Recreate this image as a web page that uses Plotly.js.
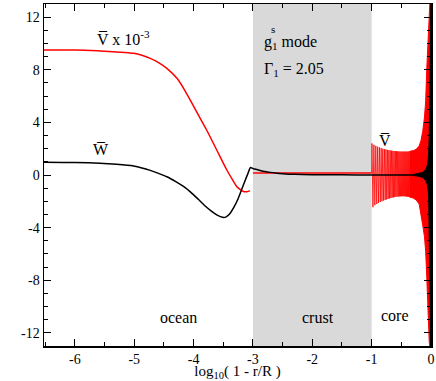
<!DOCTYPE html>
<html>
<head>
<meta charset="utf-8">
<script src="https://cdn.plot.ly/plotly-3.0.1.min.js"></script>
<style>
  html, body { margin: 0; padding: 0; background: #fff; }
  #myDiv { width: 436px; height: 381px; }
</style>
</head>
<body>
<div id="myDiv"></div>
<script>
// W-bar, ocean -> crust -> core (black)
var wX = [-6.52, -6.0, -5.58, -5.3, -5.01, -4.87, -4.73, -4.59, -4.45, -4.3, -4.17, -4.05, -3.92, -3.8, -3.7, -3.61,
          -3.51, -3.45, -3.39, -3.32, -3.25, -3.19, -3.13, -3.09, -3.04, -3.0, -2.95, -2.88, -2.8, -2.71,
          -2.6, -2.5, -2.3, -2.0, -1.5, -1.0, -0.5, -0.3];
var wY = [0.97, 0.95, 0.89, 0.81, 0.68, 0.54, 0.35, 0.12, -0.13, -0.5, -0.87, -1.3, -1.85, -2.38, -2.75, -3.03,
          -3.22, -3.18, -2.95, -2.45, -1.8, -1.1, -0.4, 0.05, 0.57, 0.5, 0.43, 0.35, 0.27, 0.2,
          0.14, 0.1, 0.05, 0.02, 0.01, 0.0, 0.0, 0.0];

// V-bar x 10^-3 in the ocean (red)
var vOceanX = [-6.52, -6.0, -5.58, -5.3, -5.01, -4.87, -4.73, -4.59, -4.45, -4.28, -4.12, -3.95, -3.78,
               -3.61, -3.44, -3.35, -3.27, -3.21, -3.16, -3.1, -3.05];
var vOceanY = [9.5, 9.5, 9.43, 9.36, 9.25, 9.1, 8.87, 8.55, 8.11, 7.35, 6.21, 4.81, 3.42,
               1.9, 0.38, -0.32, -0.89, -1.12, -1.25, -1.27, -1.19];

// V-bar in the crust (red)
var vCrustX = [-3.0, -2.0, -1.0];
var vCrustY = [0.16, 0.15, 0.15];

// resolved core oscillation of V-bar (red)
var vCoreX = [-1.0,
  -0.995, -0.978, -0.962, -0.946, -0.930, -0.914, -0.899, -0.884, -0.869, -0.855, -0.840, -0.826,
  -0.812, -0.798, -0.785, -0.772, -0.759, -0.746, -0.734, -0.722, -0.710, -0.698, -0.687, -0.676,
  -0.665, -0.654, -0.643, -0.632, -0.622, -0.611, -0.601, -0.591, -0.581, -0.571, -0.561, -0.551,
  -0.542, -0.532, -0.523, -0.514, -0.505, -0.496, -0.487, -0.478, -0.470, -0.461, -0.453, -0.444,
  -0.436, -0.428, -0.420, -0.412, -0.404, -0.396, -0.388, -0.380, -0.373, -0.365, -0.358];
var vCoreY = [0.15,
  2.4, -2.45, 2.3, -2.3, 2.22, -2.2, 2.15, -2.12, 2.1, -2.05, 2.05, -2.0,
  2.0, -1.95, 1.97, -1.9, 1.94, -1.86, 1.91, -1.82, 1.89, -1.78, 1.87, -1.75,
  1.85, -1.72, 1.84, -1.7, 1.83, -1.68, 1.82, -1.66, 1.81, -1.65, 1.8, -1.64,
  1.79, -1.63, 1.79, -1.62, 1.78, -1.62, 1.78, -1.62, 1.78, -1.62, 1.78, -1.62,
  1.78, -1.63, 1.78, -1.64, 1.78, -1.65, 1.78, -1.66, 1.79, -1.68, 1.8];

// dense part of the core oscillation: envelope (red)
var denseX   = [-0.36, -0.3, -0.25, -0.2, -0.17, -0.14, -0.11, -0.09, -0.07, -0.055, -0.04, -0.03, -0.02, -0.01, 0];
var denseTop = [1.8, 1.85, 1.95, 2.2, 2.6, 3.3, 4.4, 5.6, 8.2, 10, 11.2, 12.2, 13, 13, 13];
var denseBot = [-1.68, -1.75, -1.9, -2.2, -2.9, -3.8, -4.7, -5.8, -7.9, -9.5, -11, -12.7, -13, -13, -13];

// W-bar oscillation envelope near the centre (black)
var wDenseX   = [-0.3, -0.2, -0.15, -0.1, -0.07, -0.05, -0.04, -0.03, -0.02, -0.012, -0.006, 0];
var wDenseTop = [0.04, 0.1, 0.18, 0.35, 0.6, 1.0, 1.6, 3, 6, 10, 13, 13];
var wDenseBot = [-0.04, -0.1, -0.18, -0.35, -0.6, -1.0, -1.6, -3, -6, -10, -13, -13];

var xTicks = [-6, -5, -4, -3, -2, -1, 0];
var xTickText = ['-6', '-5', '-4', '-3', '-2', '-1', '0'];
var yTicks = [-12, -8, -4, 0, 4, 8, 12];
var yTickText = ['-12', '-8', '-4', '0', '4', '8', '12'];

var serif = 'Times New Roman';

var denseFill = {
  x: denseX.concat(denseX.slice().reverse()),
  y: denseTop.concat(denseBot.slice().reverse()),
  type: 'scatter', mode: 'lines', fill: 'toself',
  fillcolor: '#ff0000', line: {color: '#ff0000', width: 1}
};
var wDenseFill = {
  x: wDenseX.concat(wDenseX.slice().reverse()),
  y: wDenseTop.concat(wDenseBot.slice().reverse()),
  type: 'scatter', mode: 'lines', fill: 'toself',
  fillcolor: '#000000', line: {color: '#000000', width: 1}
};
var vOcean = {x: vOceanX, y: vOceanY, type: 'scatter', mode: 'lines',
              line: {color: '#ff0000', width: 1.5, shape: 'spline', smoothing: 1}};
var vCrust = {x: vCrustX, y: vCrustY, type: 'scatter', mode: 'lines', line: {color: '#ff0000', width: 1.5}};
var vCore = {x: vCoreX, y: vCoreY, type: 'scatter', mode: 'lines', line: {color: '#ff0000', width: 0.8}};
var wLine = {x: wX, y: wY, type: 'scatter', mode: 'lines',
             line: {color: '#000000', width: 1.5, shape: 'spline', smoothing: 0.7}};

var data = [vOcean, vCrust, vCore, denseFill, wLine, wDenseFill];

function label(txt, x, y, anchor, size) {
  return {text: txt, x: x, y: y, xref: 'x', yref: 'y', showarrow: false,
          xanchor: anchor || 'center', yanchor: 'middle',
          font: {family: serif, size: size || 15, color: '#000'}};
}

var layout = {
  width: 436, height: 381,
  margin: {l: 44, r: 5, t: 4, b: 35},
  paper_bgcolor: '#fff', plot_bgcolor: '#fff',
  showlegend: false,
  font: {family: serif, color: '#000'},
  xaxis: {
    range: [-6.52, 0],
    tickvals: xTicks, ticktext: xTickText,
    ticks: 'inside', ticklen: 7, tickwidth: 1, tickcolor: '#000',
    minor: {dtick: 0.5, ticks: 'inside', ticklen: 4, tickcolor: '#000'},
    showline: true, linecolor: '#000', linewidth: 1.5, mirror: 'ticks',
    showgrid: false, zeroline: false,
    tickfont: {family: serif, size: 14, color: '#000'},
    title: {text: 'log<sub>10</sub>( 1 - r/R )', font: {family: serif, size: 15, color: '#000'}, standoff: 6}
  },
  yaxis: {
    range: [-13, 13],
    tickvals: yTicks, ticktext: yTickText,
    ticks: 'inside', ticklen: 7, tickwidth: 1, tickcolor: '#000',
    minor: {dtick: 1, ticks: 'inside', ticklen: 4, tickcolor: '#000'},
    showline: true, linecolor: '#000', linewidth: 1.5, mirror: 'ticks',
    showgrid: false, zeroline: false,
    tickfont: {family: serif, size: 14, color: '#000'}
  },
  shapes: [{
    type: 'rect', xref: 'x', yref: 'paper', x0: -3, x1: -1, y0: 0, y1: 1,
    fillcolor: '#d9d9d9', line: {width: 0}, layer: 'below'
  }],
  annotations: [
    label('V\u0305 x 10<sup>-3</sup>', -5.66, 10.4, 'left', 16),
    label('W\u0305', -5.56, 1.97, 'center', 16),
    label('g<sub>1</sub> mode', -2.847, 10.1, 'left', 16),
    label('s', -2.73, 11.1, 'left', 11),
    label('\u0393<sub>1</sub> = 2.05', -2.847, 8.0, 'left', 16),
    label('V\u0305', -0.77, 2.66, 'center', 16),
    label('ocean', -4.25, -10.8, 'center', 16),
    label('crust', -1.91, -10.8, 'center', 16),
    label('core', -0.61, -10.65, 'center', 16)
  ]
};

Plotly.newPlot('myDiv', data, layout, {staticPlot: true});
</script>
</body>
</html>
